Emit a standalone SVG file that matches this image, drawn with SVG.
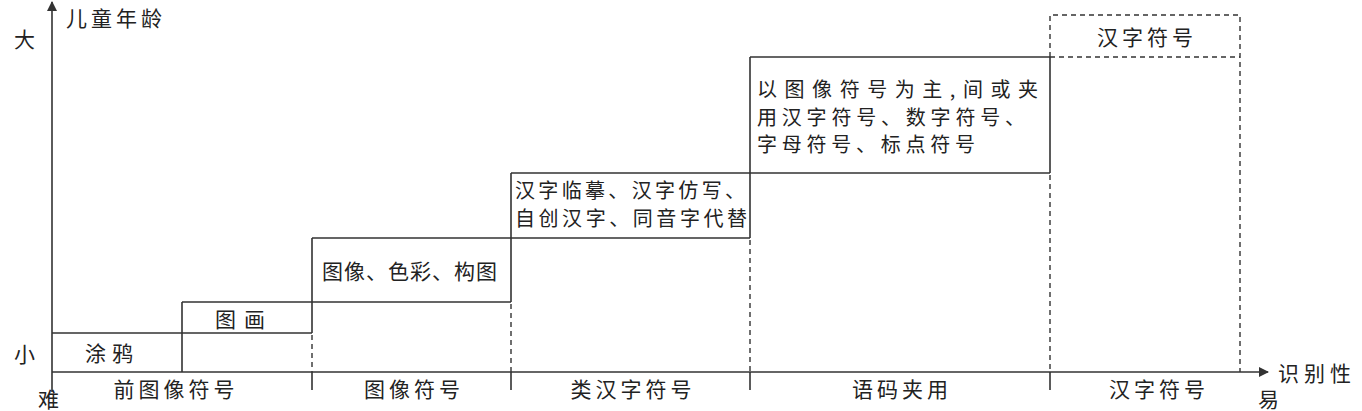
<svg xmlns="http://www.w3.org/2000/svg" width="1362" height="411" viewBox="0 0 1362 411">
<style>
.s{stroke:#333;stroke-width:1.6;fill:none}
.d{stroke:#333;stroke-width:1.4;fill:none;stroke-dasharray:5 4}
text{font-family:"Noto Sans CJK SC","Noto Sans CJK JP",sans-serif;font-size:21px;fill:#222;dominant-baseline:central}
.m{text-anchor:middle;letter-spacing:4px}
.ml{font-size:20px}
</style>
<defs>
<marker id="ar" viewBox="0 0 10 10" refX="9" refY="5" markerWidth="10" markerHeight="10" markerUnits="userSpaceOnUse" orient="auto">
<path d="M0,0 L10,5 L0,10 z" fill="#333"/>
</marker>
</defs>
<g id="axes">
<line class="s" x1="52" y1="392" x2="52" y2="2" marker-end="url(#ar)"/>
<line class="s" x1="52" y1="372" x2="1268" y2="372" marker-end="url(#ar)"/>
<path class="s" d="M312,372V390M511,372V390M750,372V390M1050,372V390"/>
<text x="66" y="17" style="letter-spacing:4px">儿童年龄</text>
<text x="14" y="38">大</text>
<text x="14" y="353">小</text>
<text x="38" y="398">难</text>
<text x="1278" y="372" style="letter-spacing:5px">识别性</text>
<text x="1258" y="398">易</text>
</g>
<g id="categories">
<text class="m" x="176" y="388">前图像符号</text>
<text class="m" x="414" y="388">图像符号</text>
<text class="m" x="633" y="388">类汉字符号</text>
<text class="m" x="902" y="388">语码夹用</text>
<text class="m" x="1159" y="388">汉字符号</text>
</g>
<g id="step1">
<path class="s" d="M52,333H312M182,302V372"/>
<text x="85" y="352" style="letter-spacing:6px">涂鸦</text>
</g>
<g id="step2">
<path class="s" d="M182,302H511M312,238V333"/>
<path class="d" d="M312,335V372"/>
<text x="215" y="318" style="letter-spacing:8px">图画</text>
</g>
<g id="step3">
<path class="s" d="M312,238H750M511,173V302"/>
<path class="d" d="M511,304V372"/>
<text x="322" y="270" style="letter-spacing:1px">图像、色彩、构图</text>
</g>
<g id="step4">
<path class="s" d="M511,173H1050M750,57V238"/>
<path class="d" d="M750,240V372"/>
<text class="ml" x="515" y="189" textLength="230" lengthAdjust="spacing">汉字临摹、汉字仿写、</text>
<text class="ml" x="515" y="217" textLength="232" lengthAdjust="spacing">自创汉字、同音字代替</text>
</g>
<g id="step5">
<path class="s" d="M750,57H1050M1050,57V173"/>
<path class="d" d="M1050,175V372"/>
<text class="ml" x="757" y="88" textLength="281" lengthAdjust="spacing">以图像符号为主,间或夹</text>
<text class="ml" x="757" y="116" textLength="268" lengthAdjust="spacing">用汉字符号、数字符号、</text>
<text class="ml" x="757" y="143" textLength="218" lengthAdjust="spacing">字母符号、标点符号</text>
</g>
<g id="step6">
<path class="d" d="M1050,57V15H1240V372M1050,57H1240"/>
<text class="m" x="1147" y="36">汉字符号</text>
</g>
</svg>
